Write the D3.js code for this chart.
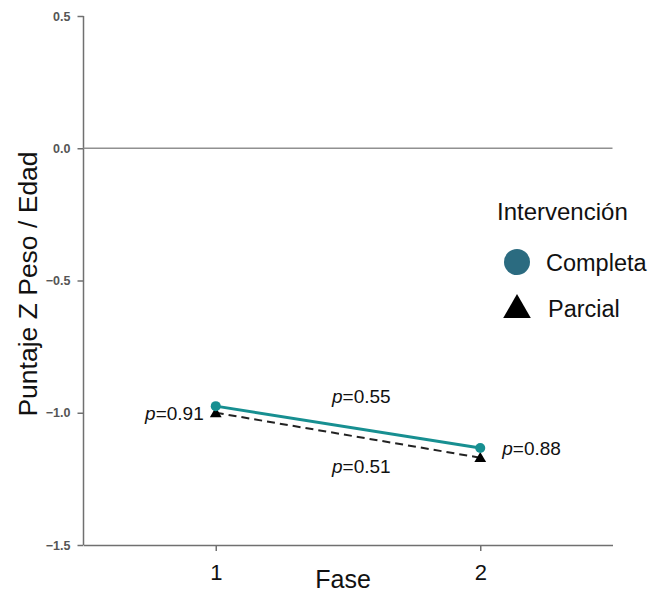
<!DOCTYPE html>
<html>
<head>
<meta charset="UTF-8">
<script src="https://cdn.jsdelivr.net/npm/d3@7"></script>
<style>
  body { margin: 0; background: #fff; }
  text { font-family: "Liberation Sans", Arial, sans-serif; }
  .axis path, .axis line { stroke: #707070; stroke-width: 1.5px; }
  .axis text { fill: #555; }
</style>
</head>
<body>
<svg width="654" height="593"></svg>
<script>
var fases = [1, 2];
var completa = [-0.975, -1.133];
var parcial = [-1.0, -1.17];
var yTicks = [0.5, 0.0, -0.5, -1.0, -1.5];
var pLabels = ["0.91", "0.55", "0.51", "0.88"];
var series = ["Completa", "Parcial"];

var svg = d3.select("svg");
var x = d3.scaleLinear().domain([0.5, 2.5]).range([83.5, 612.5]);
var y = d3.scaleLinear().domain([-1.5, 0.5]).range([545, 16]);

// y axis
var ya = svg.append("g").attr("class", "axis")
  .attr("transform", "translate(83.5,0)")
  .call(d3.axisLeft(y).tickValues(yTicks).tickFormat(d3.format(".1f")).tickSize(6).tickSizeOuter(0));
ya.select(".domain").attr("d", "M0," + y(0.5) + "V" + y(-1.5));
ya.selectAll("text").style("font-size", "12.5px").style("font-weight", "bold").attr("x", -13);

// x axis
var xa = svg.append("g").attr("class", "axis")
  .attr("transform", "translate(0," + y(-1.5) + ")")
  .call(d3.axisBottom(x).tickValues(fases).tickFormat(d3.format("d")).tickSize(6).tickSizeOuter(0));
xa.selectAll("text").style("font-size", "22px").style("fill", "#111").attr("y", 19);

// zero line
svg.append("line")
  .attr("x1", x(0.5)).attr("x2", x(2.5))
  .attr("y1", y(0)).attr("y2", y(0))
  .attr("stroke", "#909090").attr("stroke-width", 1.5);

// axis titles
svg.append("text").attr("x", 343).attr("y", 588).attr("text-anchor", "middle")
  .style("font-size", "25px").style("fill", "#111").text("Fase");
svg.append("text").attr("transform", "translate(37,284) rotate(-90)").attr("text-anchor", "middle")
  .style("font-size", "26.5px").style("fill", "#111").text("Puntaje Z Peso / Edad");

var line = d3.line().x(function(d, i) { return x(fases[i]); }).y(function(d) { return y(d); });

svg.append("path").datum(parcial).attr("d", line)
  .attr("fill", "none").attr("stroke", "#222").attr("stroke-width", 2).attr("stroke-dasharray", "8,5");
svg.append("path").datum(completa).attr("d", line)
  .attr("fill", "none").attr("stroke", "#178f91").attr("stroke-width", 3);

var tri = d3.symbol().type(d3.symbolTriangle);
svg.selectAll(".tri").data(parcial).enter().append("path")
  .attr("d", tri.size(60))
  .attr("transform", function(d, i) { return "translate(" + x(fases[i]) + "," + (y(d) + 1) + ")"; })
  .attr("fill", "#000");
svg.selectAll(".dot").data(completa).enter().append("circle")
  .attr("cx", function(d, i) { return x(fases[i]); })
  .attr("cy", function(d) { return y(d); })
  .attr("r", 5).attr("fill", "#178f91");

// p labels
function pText(xp, yp, val, anchor) {
  var t = svg.append("text").attr("x", xp).attr("y", yp).attr("text-anchor", anchor)
    .style("font-size", "19px").style("fill", "#111");
  t.append("tspan").style("font-style", "italic").text("p");
  t.append("tspan").text("=" + val);
}
pText(x(1) - 12, y(-1.0) + 7, pLabels[0], "end");
pText(332, 403, pLabels[1], "start");
pText(332, 473, pLabels[2], "start");
pText(x(2) + 22, y(-1.133) + 7, pLabels[3], "start");

// legend
svg.append("text").attr("x", 497).attr("y", 220).style("font-size", "24px").style("fill", "#111").text("Intervención");
svg.append("circle").attr("cx", 517).attr("cy", 262).attr("r", 13).attr("fill", "#2b6b80");
svg.append("path").attr("d", tri.size(330)).attr("transform", "translate(517,310)").attr("fill", "#000");
svg.append("text").attr("x", 546).attr("y", 271).style("font-size", "23.5px").style("fill", "#111").text(series[0]);
svg.append("text").attr("x", 548).attr("y", 317).style("font-size", "23.5px").style("fill", "#111").text(series[1]);
</script>
</body>
</html>
